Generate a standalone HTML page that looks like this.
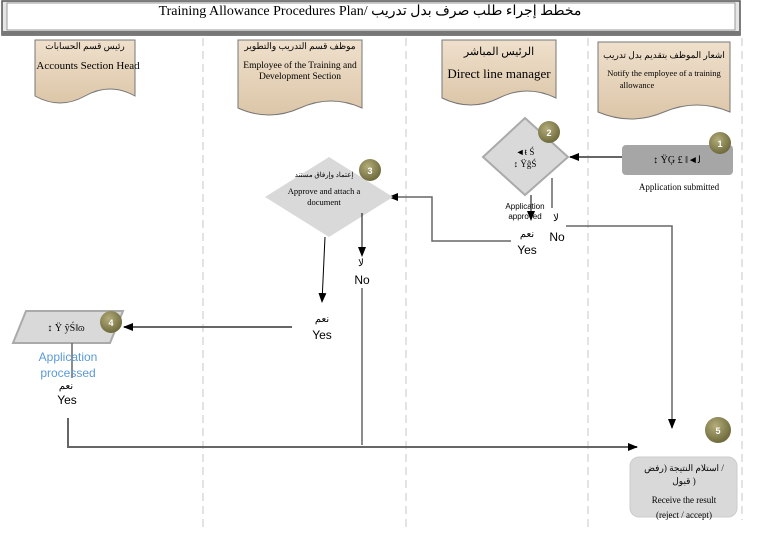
<!DOCTYPE html>
<html><head><meta charset="utf-8"><style>
body{margin:0;background:#fff;}
svg{display:block;font-family:"Liberation Serif","Noto Sans CJK SC",serif;}
.s{font-family:"Liberation Sans","Noto Sans CJK SC",sans-serif;}
</style></head><body>
<svg width="763" height="552" viewBox="0 0 763 552">
<defs>
<marker id="a" markerWidth="10" markerHeight="8" refX="9" refY="4" orient="auto" markerUnits="userSpaceOnUse"><path d="M0,0L10,4L0,8z" fill="#000"/></marker>
<radialGradient id="g" cx="40%" cy="35%" r="65%"><stop offset="0" stop-color="#b4ad7a"/><stop offset="1" stop-color="#6e6a3c"/></radialGradient>
<linearGradient id="h" x1="0" y1="0" x2="0" y2="1"><stop offset="0" stop-color="#efe0cc"/><stop offset="1" stop-color="#dcc6a8"/></linearGradient>
</defs>
<!-- title -->
<rect x="2" y="1" width="738" height="34" fill="#e6e6e6" stroke="#555" stroke-width="1.5"/>
<rect x="7" y="3" width="728" height="27" fill="#fff" stroke="#999"/>
<rect x="2" y="31" width="738" height="4" fill="#777"/>
<text x="370" y="15" font-size="14" text-anchor="middle">Training Allowance Procedures Plan/ مخطط إجراء طلب صرف بدل تدريب</text>
<!-- lanes -->
<g stroke="#d0d0d0" stroke-dasharray="8,5" stroke-width="1.2">
<line x1="203" y1="38" x2="203" y2="530"/><line x1="406" y1="38" x2="406" y2="530"/><line x1="588" y1="38" x2="588" y2="530"/><line x1="742" y1="38" x2="742" y2="520"/>
</g>
<!-- headers -->
<g fill="url(#h)" stroke="#777">
<path d="M35,40H135V96Q110,82 85,96T35,96Z"/>
<path d="M238,40H362V108Q331,94 300,108T238,108Z"/>
<path d="M442,40H556V98Q527,84 499,98T442,98Z"/>
<path d="M598,42H730V112Q697,98 664,112T598,112Z"/>
</g>
<g font-size="9" text-anchor="middle">
<text x="85" y="49">رئيس قسم الحسابات</text>
<text x="88" y="69" font-size="11">Accounts Section Head</text>
<text x="300" y="49">موظف قسم التدريب والتطوير</text>
<text x="300" y="68" font-size="9.5">Employee of the Training and</text>
<text x="300" y="79" font-size="9.5">Development Section</text>
<text x="499" y="55" font-size="11">الرئيس المباشر</text>
<text x="499" y="78" font-size="13">Direct line manager</text>
<text x="664" y="58">اشعار الموظف بتقديم بدل تدريب</text>
<text x="664" y="76" font-size="8.5">Notify the employee of a training</text>
<text x="637" y="88" font-size="8.5">allowance</text>
</g>
<!-- box 1 -->
<rect x="622" y="145" width="111" height="30" rx="4" fill="#a6a6a6"/>
<text x="677" y="163" font-size="10" text-anchor="middle">↕ ŸĢ £ ‖◄ﻟ</text>
<text x="679" y="190" font-size="9" text-anchor="middle">Application submitted</text>
<line x1="622" y1="157" x2="570" y2="157" stroke="#666" stroke-width="2" marker-end="url(#a)"/>
<!-- diamond 2 -->
<path d="M525,118L568,157L525,195L483,157Z" fill="#d9d9d9" stroke="#aaa" stroke-width="2"/>
<text x="525" y="155" font-size="9" text-anchor="middle">◄ŧ Ś</text>
<text x="525" y="167" font-size="9" text-anchor="middle">↕ ŸĝŚ</text>
<line x1="531" y1="195" x2="531" y2="220" stroke="#000" marker-end="url(#a)"/>
<text x="525" y="209" font-size="8" text-anchor="middle" class="s">Application</text>
<text x="525" y="219" font-size="8" text-anchor="middle" class="s">approved</text>
<line x1="552" y1="178" x2="552" y2="208" stroke="#666" stroke-width="1.5"/>
<text x="527" y="237" font-size="10" text-anchor="middle">نعم</text>
<text x="527" y="254" font-size="12" text-anchor="middle" class="s">Yes</text>
<text x="556" y="221" font-size="10" text-anchor="middle">لا</text>
<text x="557" y="241" font-size="12" text-anchor="middle" class="s">No</text>
<polyline points="566,226 672,226 672,428" fill="none" stroke="#666" stroke-width="1.5" marker-end="url(#a)"/>
<polyline points="511,241 432,241 432,197 389,197" fill="none" stroke="#666" stroke-width="1.5" marker-end="url(#a)"/>
<!-- diamond 3 -->
<path d="M329,157L393,197L329,237L265,197Z" fill="#d9d9d9"/>
<text x="324" y="177" font-size="7" text-anchor="middle">إعتماد وإرفاق مستند</text>
<text x="324" y="194" font-size="8.5" text-anchor="middle">Approve and attach a</text>
<text x="324" y="205" font-size="8.5" text-anchor="middle">document</text>
<line x1="325" y1="237" x2="322" y2="302" stroke="#000" marker-end="url(#a)"/>
<line x1="362" y1="213" x2="362" y2="256" stroke="#000" marker-end="url(#a)"/>
<text x="361" y="266" font-size="10" text-anchor="middle">لا</text>
<text x="362" y="284" font-size="12" text-anchor="middle" class="s">No</text>
<text x="322" y="322" font-size="10" text-anchor="middle">نعم</text>
<text x="322" y="339" font-size="12" text-anchor="middle" class="s">Yes</text>
<line x1="362" y1="288" x2="362" y2="445" stroke="#666" stroke-width="1.5"/>
<line x1="292" y1="327" x2="124" y2="327" stroke="#666" stroke-width="2" marker-end="url(#a)"/>
<!-- parallelogram 4 -->
<path d="M26,311H123L110,343H13Z" fill="#d9d9d9" stroke="#aaa" stroke-width="2"/>
<text x="66" y="331" font-size="10" text-anchor="middle">↕ Ÿ ŷŚ‖ɷ</text>
<line x1="72" y1="343" x2="72" y2="378" stroke="#666" stroke-width="1.5"/>
<text x="68" y="361" font-size="12" text-anchor="middle" class="s" fill="#5b9bd5">Application</text>
<text x="68" y="377" font-size="12" text-anchor="middle" class="s" fill="#5b9bd5">processed</text>
<text x="66" y="389" font-size="10" text-anchor="middle">نعم</text>
<text x="67" y="404" font-size="12" text-anchor="middle" class="s">Yes</text>
<polyline points="68,418 68,447 637,447" fill="none" stroke="#666" stroke-width="2" marker-end="url(#a)"/>
<!-- box 5 -->
<rect x="630" y="457" width="107" height="60" rx="9" fill="#d9d9d9" stroke="#ccc"/>
<text x="684" y="471" font-size="9" text-anchor="middle">استلام النتيجة (رفض /</text>
<text x="684" y="484" font-size="9" text-anchor="middle">قبول )</text>
<text x="684" y="503" font-size="9" text-anchor="middle">Receive the result</text>
<text x="684" y="518" font-size="9" text-anchor="middle">(reject / accept)</text>
<!-- badges -->
<g font-size="9" font-weight="bold" fill="#fff" text-anchor="middle" class="s">
<circle cx="720" cy="143" r="11" fill="url(#g)"/><text x="720" y="147" fill="#fff">1</text>
<circle cx="549" cy="132" r="11" fill="url(#g)"/><text x="549" y="136" fill="#fff">2</text>
<circle cx="370" cy="170" r="11" fill="url(#g)"/><text x="370" y="174" fill="#fff">3</text>
<circle cx="111" cy="322" r="11" fill="url(#g)"/><text x="111" y="326" fill="#fff">4</text>
<circle cx="718" cy="430" r="13" fill="url(#g)"/><text x="718" y="434" fill="#fff">5</text>
</g>
</svg>
</body></html>
